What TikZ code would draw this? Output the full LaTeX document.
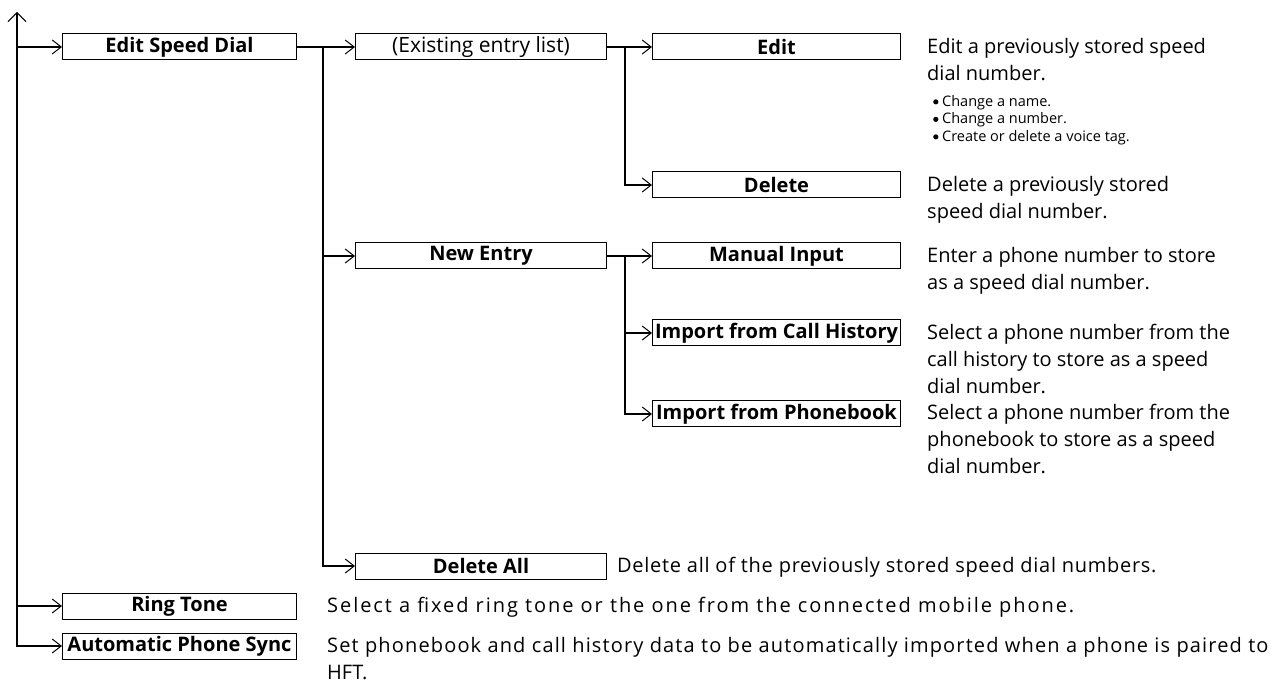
\documentclass[tikz,border=0pt]{standalone}
\usepackage{fontspec}
\setmainfont{Open Sans}
\usetikzlibrary{arrows.meta}
\newcommand{\bigdot}{\raisebox{0.12em}{\tikz\fill (0,0) circle (2.6pt);}}
\begin{document}
\begin{tikzpicture}[x=1pt,y=-1pt,
  mbox/.style={draw,line width=1pt,minimum height=26pt,inner sep=0pt,anchor=west,
    font=\fontsize{20}{22}\selectfont\bfseries},
  wa/.style={mbox,minimum width=234pt},
  wb/.style={mbox,minimum width=251pt},
  wc/.style={mbox,minimum width=248pt},
  conn/.style={line width=1.8pt},
  arr/.style={conn,-{Straight Barb[length=9pt,width=14pt,line width=1pt]}},
  desc/.style={anchor=north west,inner sep=0pt,align=left,
    font=\fontsize{20}{27}\selectfont},
  bul/.style={anchor=north west,inner sep=0pt,align=left,
    font=\fontsize{14.5}{17.5}\selectfont}
]
\useasboundingbox (0,0) rectangle (1272,684);

% level 1
\node[wa] (esd) at (62,47) {Edit Speed Dial};
\node[wa] (ring) at (62,606) {Ring Tone};
\node[wa] (aps) at (62,646) {Automatic Phone Sync};
% level 2
\node[wb] (exl) at (355,47) {\fontsize{21}{22}\selectfont\mdseries(Existing entry list)};
\node[wb] (new) at (355,256) {New Entry};
\node[wb] (dall) at (355,566) {Delete All};
% level 3
\node[wc] (edit) at (652,47) {Edit};
\node[wc] (del) at (652,185) {Delete};
\node[wc] (man) at (652,256) {Manual Input};
\node[wc] (ich) at (652,333) {Import from Call History};
\node[wc] (ipb) at (652,414) {Import from Phonebook};

% trunk
\coordinate (top) at (17,12);
\draw[conn,{Straight Barb[length=9pt,width=18pt,line width=1pt]}-{Straight Barb[length=9pt,width=14pt,line width=1pt]}]
  (top) -- (top |- aps.west) -- (aps.west);
\draw[arr] (top |- esd.west) -- (esd.west);
\draw[arr] (top |- ring.west) -- (ring.west);

% level 2 branches
\coordinate (b2) at (323,47);
\draw[arr] (esd.east) -- (exl.west);
\draw[arr] (b2) |- (dall.west);
\draw[arr] (b2 |- new.west) -- (new.west);

% level 3 branches
\coordinate (b3a) at (625,47);
\draw[arr] (exl.east) -- (edit.west);
\draw[arr] (b3a) |- (del.west);
\coordinate (b3b) at (625,256);
\draw[arr] (new.east) -- (man.west);
\draw[arr] (b3b) |- (ipb.west);
\draw[arr] (b3b |- ich.west) -- (ich.west);

% descriptions
\node[desc] (dedit) at (927,38) {Edit a previously stored speed\\dial number.};
\node[bul] (dbul) at (933,95) {\bigdot\ Change a name.\\\bigdot\ Change a number.\\\bigdot\ Create or delete a voice tag.};
\node[desc] (ddel) at (927,176) {Delete a previously stored\\speed dial number.};
\node[desc] (dman) at (927,247) {Enter a phone number to store\\as a speed dial number.};
\node[desc] (dich) at (927,324) {Select a phone number from the\\call history to store as a speed\\dial number.};
\node[desc] (dipb) at (927,404) {Select a phone number from the\\phonebook to store as a speed\\dial number.};
\node[desc] (ddall) at (617,557) {\addfontfeature{LetterSpace=3.5}Delete all of the previously stored speed dial numbers.};
\node[desc] (dring) at (327,597) {\addfontfeature{LetterSpace=9.7}Select a fixed ring tone or the one from the connected mobile phone.};
\node[desc] (daps) at (327,637) {\addfontfeature{LetterSpace=5.7}Set phonebook and call history data to be automatically imported when a phone is paired to\\HFT.};
\end{tikzpicture}
\end{document}
